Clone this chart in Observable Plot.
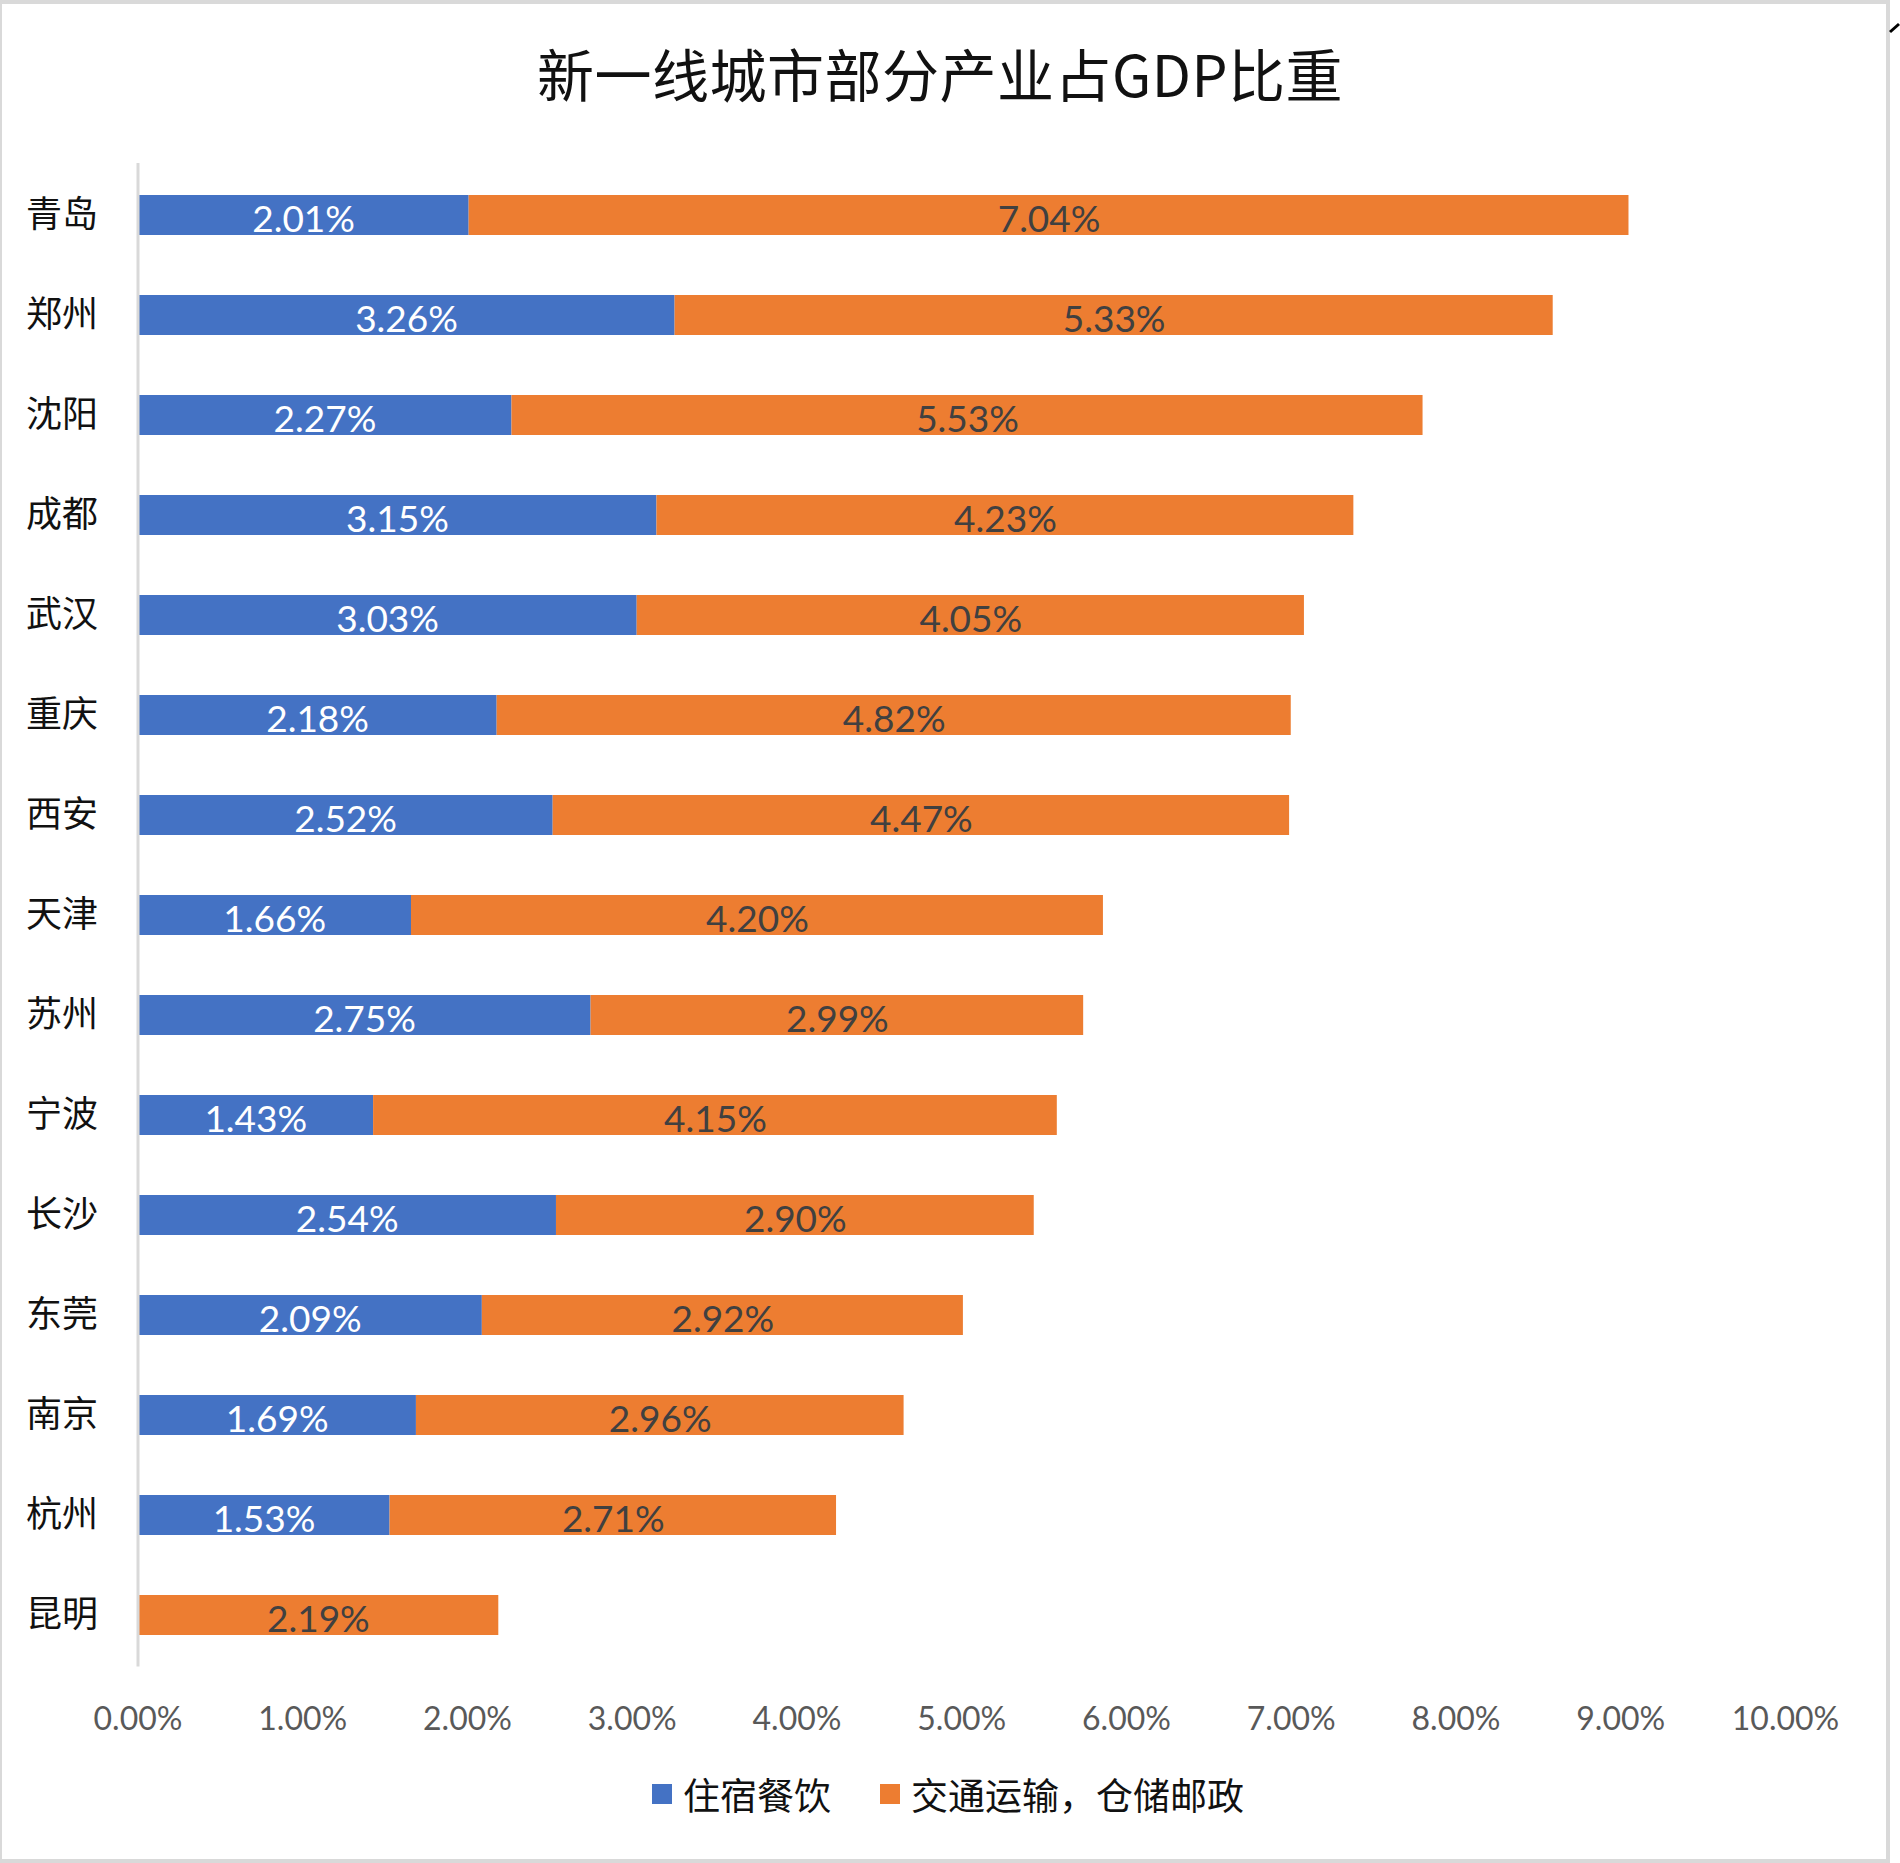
<!DOCTYPE html>
<html>
<head>
<meta charset="utf-8">
<script src="https://cdn.jsdelivr.net/npm/d3@7"></script>
<script src="https://cdn.jsdelivr.net/npm/@observablehq/plot@0.6"></script>
<style>
  html, body { margin: 0; padding: 0; background: #ffffff; }
  #wrap { position: relative; width: 1900px; height: 1863px; overflow: hidden; background: #fff; }
  #frame { position: absolute; left: 0; top: 0; width: 1884px; height: 1855px; border: solid #d9d9d9; border-width: 4px 4px 5px 2px; box-sizing: content-box; }
  #title { position: absolute; left: 0; width: 1880px; top: 38px; text-align: center; font-family: "Noto Sans CJK SC", sans-serif; font-size: 57px; line-height: 1.2; color: #111; letter-spacing: 0.5px; }
  #chart { position: absolute; left: 0; top: 0; }
  #legend { position: absolute; left: 652px; top: 1767px; display: flex; align-items: center; font-family: "Noto Sans CJK SC", sans-serif; font-size: 37px; color: #111; }
  .sw { width: 20px; height: 20px; display: inline-block; margin-right: 11px; }
  #mark { position: absolute; left: 1889px; top: 22px; }
</style>
</head>
<body>
<div id="wrap">
  <div id="frame"></div>
  <div id="title">新一线城市部分产业占GDP比重</div>
  <div id="chart"></div>
  <div id="legend"></div>
  <svg id="mark" width="11" height="12"><path d="M1,10 L10,2" stroke="#000" stroke-width="3"/></svg>
</div>
<script>
const cities = ["青岛","郑州","沈阳","成都","武汉","重庆","西安","天津","苏州","宁波","长沙","东莞","南京","杭州","昆明"];
const seriesNames = ["住宿餐饮", "交通运输，仓储邮政"];
const seriesColors = ["#4472C4", "#ED7D31"];
const lodging = [2.01, 3.26, 2.27, 3.15, 3.03, 2.18, 2.52, 1.66, 2.75, 1.43, 2.54, 2.09, 1.69, 1.53, null];
const transport = [7.04, 5.33, 5.53, 4.23, 4.05, 4.82, 4.47, 4.20, 2.99, 4.15, 2.90, 2.92, 2.96, 2.71, 2.19];
const xTicks = [0, 1, 2, 3, 4, 5, 6, 7, 8, 9, 10];

const data = [];
cities.forEach((c, i) => {
  if (lodging[i] != null) data.push({city: c, series: seriesNames[0], value: lodging[i]});
  if (transport[i] != null) data.push({city: c, series: seriesNames[1], value: transport[i]});
});
const fmt = d => d.toFixed(2) + "%";
const numFont = "Lato, 'Open Sans', sans-serif";

const chart = Plot.plot({
  width: 1900,
  height: 1863,
  marginLeft: 137.5,
  marginRight: 115,
  marginTop: 163,
  marginBottom: 196.5,
  style: {background: "transparent", fontFamily: numFont},
  x: {domain: [0, 10], axis: null, label: null},
  y: {domain: cities, paddingInner: 0.6, paddingOuter: 0.3, axis: null, label: null},
  color: {domain: seriesNames, range: seriesColors},
  marks: [
    Plot.barX(data, Plot.stackX({x: "value", y: "city", fill: "series", order: seriesNames})),
    Plot.text(data.filter(d => d.series === seriesNames[0]), Plot.stackX({x: "value", y: "city", z: "series", order: seriesNames, text: d => fmt(d.value), fill: "#ffffff", fontSize: 37, dy: 5, fontFamily: numFont})),
    Plot.text(data, Plot.stackX({x: "value", y: "city", z: "series", order: seriesNames, text: d => d.series === seriesNames[1] ? fmt(d.value) : "", fill: "#404040", fontSize: 37, dy: 5, fontFamily: numFont})),
    Plot.ruleX([0], {stroke: "#d9d9d9", strokeWidth: 3}),
    Plot.axisY({label: null, tickSize: 0, tickPadding: 40, fontSize: 36, fill: "#111", fontFamily: "'Noto Sans CJK SC', sans-serif"}),
    Plot.axisX({label: null, ticks: xTicks, tickFormat: fmt, tickSize: 0, tickPadding: 40, fontSize: 32, fill: "#595959", fontFamily: numFont})
  ]
});
document.getElementById("chart").appendChild(chart);

const legend = document.getElementById("legend");
seriesNames.forEach((name, i) => {
  const sw = document.createElement("span");
  sw.className = "sw";
  sw.style.background = seriesColors[i];
  const t = document.createElement("span");
  t.textContent = name;
  if (i === 0) t.style.marginRight = "49px";
  legend.appendChild(sw);
  legend.appendChild(t);
});
</script>
</body>
</html>
